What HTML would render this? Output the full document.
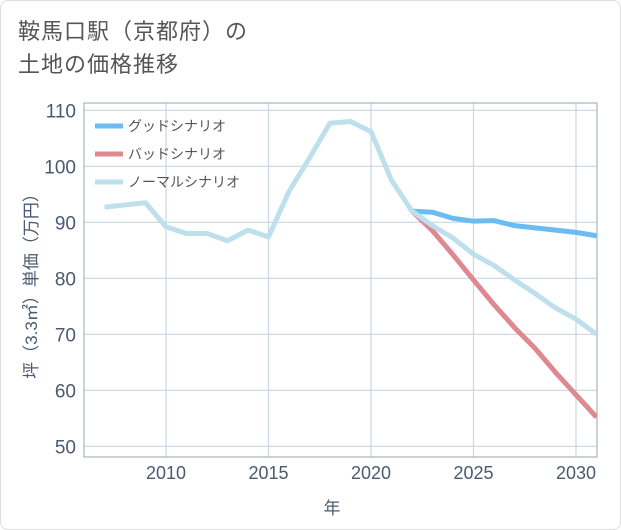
<!DOCTYPE html>
<html><head><meta charset="utf-8"><style>
body{margin:0;background:#fff;font-family:"Liberation Sans","Noto Sans CJK JP",sans-serif}
#card{position:absolute;left:0;top:0;width:619px;height:528px;border:1px solid #ddd;border-radius:8px;background:#fff}
#title{position:absolute;left:18px;top:15px;font-size:22px;line-height:33px;color:#555;letter-spacing:1px}
</style></head><body>
<div id="card"></div>
<div id="title">鞍馬口駅（京都府）の<br>土地の価格推移</div>
<svg id="chart" width="621" height="530" style="position:absolute;left:0;top:0"></svg>
<script>
const years=[2007,2008,2009,2010,2011,2012,2013,2014,2015,2016,2017,2018,2019,2020,2021,2022,2023,2024,2025,2026,2027,2028,2029,2030,2031];
const normal=[92.7,93.1,93.5,89.2,88,88,86.7,88.6,87.4,95.5,101.5,107.7,108,106.2,97.5,92,89.4,87.2,84.3,82.3,79.7,77.3,74.7,72.7,70];
const goodYears=[2022,2023,2024,2025,2026,2027,2028,2029,2030,2031];
const good=[92,91.8,90.7,90.2,90.3,89.4,89,88.6,88.2,87.6];
const bad=[92,88.5,84.2,79.7,75.3,71.2,67.5,63.2,59.2,55.2];
const yTicks=[50,60,70,80,90,100,110];
const xTicks=[2010,2015,2020,2025,2030];
const L=84,R=597,T=103,B=457;
const x=v=>166+(v-2010)*20.5;
const y=v=>222.3-(v-90)*5.6;
const svg=document.getElementById('chart');
const NS='http://www.w3.org/2000/svg';
function mk(t,a){const e=document.createElementNS(NS,t);for(const k in a)e.setAttribute(k,a[k]);svg.appendChild(e);return e;}
yTicks.forEach(v=>{
 const g=mk('line',{x1:L,x2:R,y1:y(v),y2:y(v),stroke:'#c9d7e6','stroke-width':1.2});
 
 
 const t=mk('text',{x:L-8,y:y(v)+7,'text-anchor':'end','font-size':19,fill:'#4a5a70'});
 t.textContent=v;
 
 
});
xTicks.forEach(v=>{
 const g=mk('line',{x1:x(v),x2:x(v),y1:T,y2:B,stroke:'#c9d7e6','stroke-width':1.2});
 
 
 const t=mk('text',{x:x(v),y:B+22,'text-anchor':'middle','font-size':18,fill:'#4a5a70'});
 t.textContent=v;
 
 
});
const fr=mk('rect',{x:L,y:T,width:R-L,height:B-T,fill:'none',stroke:'#9aa6b2','stroke-width':1});


const defs=mk('defs',{});
const cp=document.createElementNS(NS,'clipPath');cp.setAttribute('id','c');
const cr=document.createElementNS(NS,'rect');cr.setAttribute('x',L);cr.setAttribute('y',T);cr.setAttribute('width',R-L);cr.setAttribute('height',B-T);
cp.appendChild(cr);defs.appendChild(cp);
function line(xs,vs,color,name){
 const p=mk('polyline',{points:xs.map((yr,i)=>x(yr)+','+y(vs[i])).join(' '),fill:'none',stroke:color,'stroke-width':5,'stroke-linejoin':'round','clip-path':'url(#c)'});
 
 
}
line(goodYears,good,'#6bbcf2','good-scenario-line');
line(goodYears,bad,'#de8890','bad-scenario-line');
line(years,normal,'#bde0ec','normal-scenario-line');
const leg=[['グッドシナリオ','#6bbcf2'],['バッドシナリオ','#de8890'],['ノーマルシナリオ','#bde0ec']];
leg.forEach((d,i)=>{
 const yy=126+i*28;
 const s=mk('line',{x1:95,x2:123,y1:yy,y2:yy,stroke:d[1],'stroke-width':5});
 
 
 const t=mk('text',{x:128,y:yy+5,'font-size':14,fill:'#555'});
 t.textContent=d[0];
 
 
});
const yt=mk('text',{x:0,y:0,transform:'translate(37,282) rotate(-90)','text-anchor':'middle','font-size':17,fill:'#4a5a70'});
yt.textContent='坪（3.3㎡）単価（万円）';


const xt=mk('text',{x:332,y:514,'text-anchor':'middle','font-size':17,fill:'#4a5a70'});
xt.textContent='年';


</script>
</body></html>
